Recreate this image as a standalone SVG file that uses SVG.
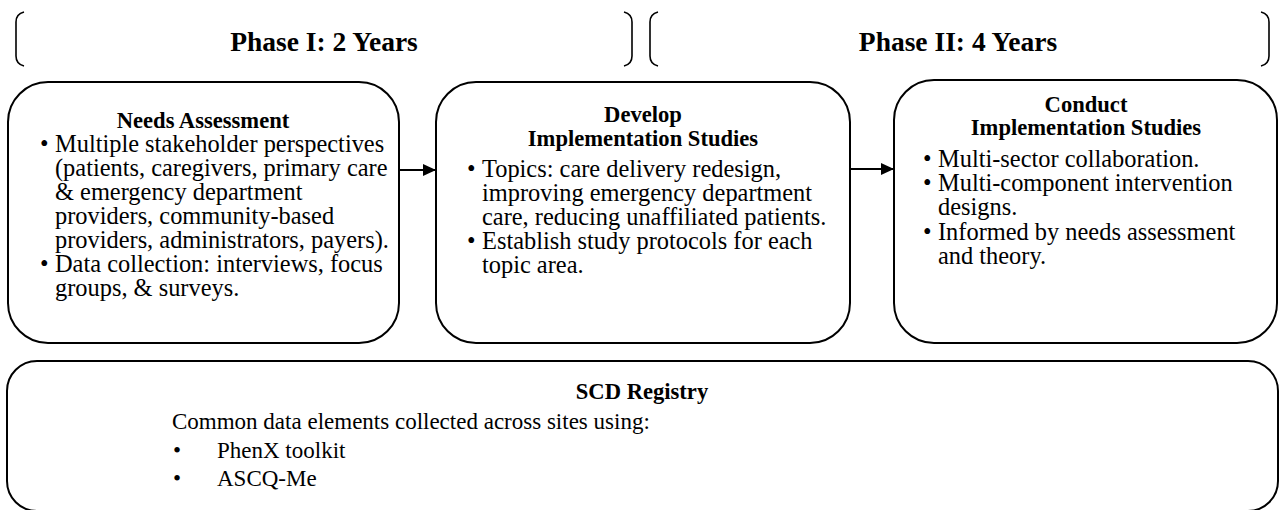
<svg xmlns="http://www.w3.org/2000/svg" width="1285" height="510" viewBox="0 0 1285 510">
<defs>
<style>
.box{fill:#fff;stroke:#000;stroke-width:2}
.br{fill:none;stroke:#000;stroke-width:1.6}
.t{font-family:"Liberation Serif","Times New Roman",serif;fill:#000}
.h{font-weight:bold;font-size:22.6px}
.title{font-weight:bold;font-size:27.5px}
.b{font-size:24.4px}
.s{font-size:23px}
.c{stroke:#000;stroke-width:2;fill:none}
</style>
<marker id="ah" markerWidth="13" markerHeight="12" refX="13" refY="6" orient="auto" markerUnits="userSpaceOnUse">
<path d="M0,0 L13,6 L0,12 Z" fill="#000"/>
</marker>
</defs>
<rect width="1285" height="510" fill="#fff"/>
<g id="phase1">
<path class="br" d="M24,12 Q16,14 16,22 L16,56 Q16,64 24,66"/>
<path class="br" d="M624,12 Q632,14 632,22 L632,56 Q632,64 624,66"/>
<text class="t title" x="324" y="51" text-anchor="middle">Phase I: 2 Years</text>
</g>
<g id="phase2">
<path class="br" d="M658,12 Q650,14 650,22 L650,56 Q650,64 658,66"/>
<path class="br" d="M1261,12 Q1269,14 1269,22 L1269,56 Q1269,64 1261,66"/>
<text class="t title" x="958" y="51" text-anchor="middle">Phase II: 4 Years</text>
</g>
<g id="needs">
<rect class="box" x="8" y="82" width="391" height="261" rx="40" ry="40"/>
<text class="t h" x="203" y="128" text-anchor="middle">Needs Assessment</text>
<text class="t b"><tspan x="40" y="152">•</tspan><tspan x="55" y="152">Multiple stakeholder perspectives</tspan><tspan x="55" y="176">(patients, caregivers, primary care</tspan><tspan x="55" y="200">&amp; emergency department</tspan><tspan x="55" y="224">providers, community-based</tspan><tspan x="55" y="248">providers, administrators, payers).</tspan><tspan x="40" y="272">•</tspan><tspan x="55" y="272">Data collection: interviews, focus</tspan><tspan x="55" y="296">groups, &amp; surveys.</tspan></text>
</g>
<g id="develop">
<rect class="box" x="436" y="82" width="414" height="261" rx="40" ry="40"/>
<text class="t h" text-anchor="middle"><tspan x="643" y="122">Develop</tspan><tspan x="643" y="146">Implementation Studies</tspan></text>
<text class="t b"><tspan x="467" y="177">•</tspan><tspan x="482" y="177">Topics: care delivery redesign,</tspan><tspan x="482" y="201">improving emergency department</tspan><tspan x="482" y="225">care, reducing unaffiliated patients.</tspan><tspan x="467" y="249">•</tspan><tspan x="482" y="249">Establish study protocols for each</tspan><tspan x="482" y="273">topic area.</tspan></text>
</g>
<g id="conduct">
<rect class="box" x="894" y="80" width="383" height="263" rx="40" ry="40"/>
<text class="t h" text-anchor="middle"><tspan x="1086" y="112">Conduct</tspan><tspan x="1086" y="135">Implementation Studies</tspan></text>
<text class="t b"><tspan x="923" y="167">•</tspan><tspan x="938" y="167">Multi-sector collaboration.</tspan><tspan x="923" y="191">•</tspan><tspan x="938" y="191">Multi-component intervention</tspan><tspan x="938" y="215">designs.</tspan><tspan x="923" y="240">•</tspan><tspan x="938" y="240">Informed by needs assessment</tspan><tspan x="938" y="264">and theory.</tspan></text>
</g>
<g id="registry">
<rect class="box" x="7" y="361" width="1271" height="150" rx="30" ry="30"/>
<text class="t h" x="642" y="399" text-anchor="middle">SCD Registry</text>
<text class="t s"><tspan x="172" y="429">Common data elements collected across sites using:</tspan><tspan x="173" y="458">•</tspan><tspan x="217" y="458">PhenX toolkit</tspan><tspan x="173" y="486">•</tspan><tspan x="217" y="486">ASCQ-Me</tspan></text>
</g>
<g id="connectors">
<line class="c" x1="399" y1="170" x2="436" y2="170" marker-end="url(#ah)"/>
<line class="c" x1="850" y1="169" x2="894" y2="169" marker-end="url(#ah)"/>
</g>
</svg>
